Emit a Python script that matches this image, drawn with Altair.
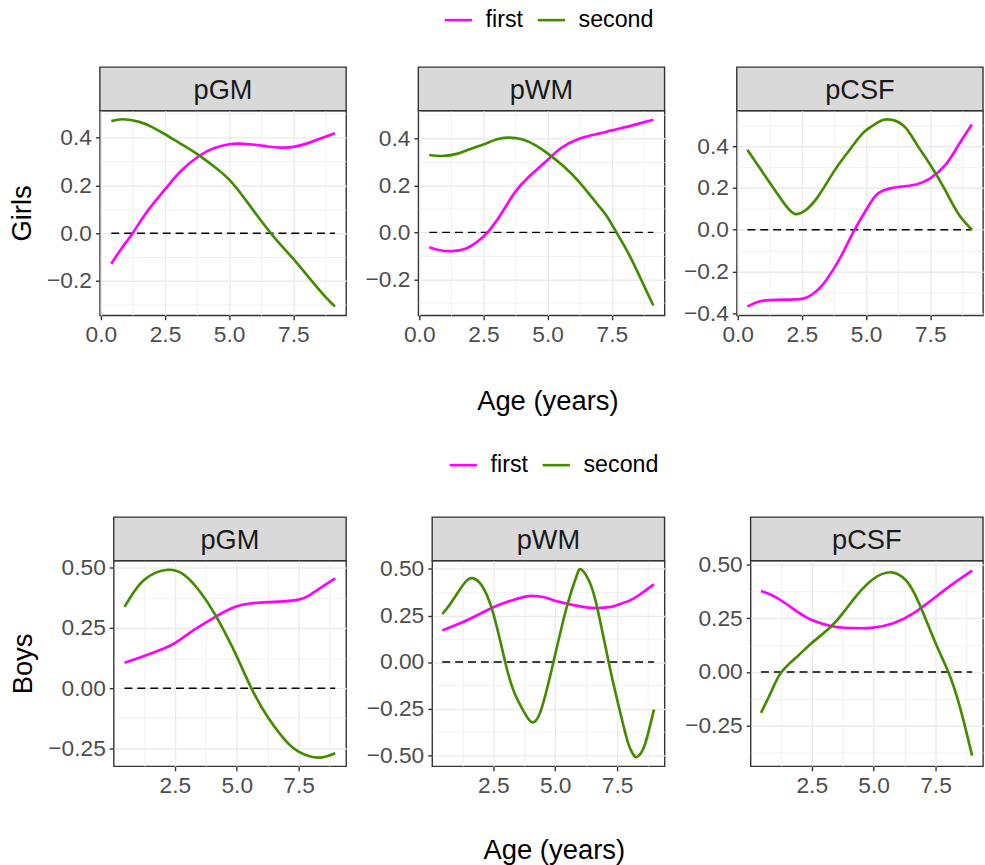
import altair as alt
import pandas as pd

FONT = "Liberation Sans"
PINK = "#FF00FF"
GREEN = "#458B00"

SERIES = ["first", "second"]
PANELS = ["pGM", "pWM", "pCSF"]
ROWS = ["Girls", "Boys"]

# ---------------- Girls ----------------
girls_pGM_first_age = [0.41, 0.8, 1.24, 1.8, 2.5, 3.1, 3.8, 4.4, 5.0, 5.4, 6.0, 6.5, 7.0, 7.5, 8.1, 8.75, 9.12]
girls_pGM_first_val = [-0.128, -0.065, 0.0, 0.09, 0.183, 0.258, 0.321, 0.355, 0.372, 0.375, 0.37, 0.363, 0.358, 0.361, 0.378, 0.404, 0.418]
girls_pGM_second_age = [0.41, 0.86, 1.5, 2.0, 2.5, 3.1, 3.8, 4.4, 5.0, 5.6, 6.2, 6.62, 7.0, 7.5, 8.1, 8.76, 9.12]
girls_pGM_second_val = [0.469, 0.477, 0.466, 0.444, 0.414, 0.375, 0.328, 0.28, 0.224, 0.145, 0.058, 0.0, -0.048, -0.108, -0.185, -0.268, -0.307]

girls_pWM_first_age = [0.39, 0.8, 1.28, 1.8, 2.2, 2.66, 3.2, 3.71, 4.3, 5.0, 5.5, 6.25, 7.0, 7.5, 8.2, 8.77, 9.12]
girls_pWM_first_val = [-0.063, -0.076, -0.080, -0.07, -0.045, 0.0, 0.08, 0.168, 0.24, 0.308, 0.357, 0.399, 0.42, 0.434, 0.452, 0.469, 0.479]
girls_pWM_second_age = [0.39, 0.9, 1.5, 2.0, 2.5, 3.0, 3.46, 4.0, 4.5, 5.0, 5.6, 6.25, 6.9, 7.3, 7.68, 8.2, 8.77, 9.12]
girls_pWM_second_val = [0.329, 0.325, 0.335, 0.355, 0.374, 0.395, 0.403, 0.396, 0.372, 0.336, 0.283, 0.212, 0.125, 0.07, 0.0, -0.1, -0.231, -0.311]

girls_pCSF_first_age = [0.38, 0.8, 1.25, 1.8, 2.5, 2.9, 3.3, 3.75, 4.1, 4.51, 5.0, 5.35, 5.67, 6.0, 6.25, 6.95, 7.5, 8.1, 8.6, 9.12]
girls_pCSF_first_val = [-0.368, -0.345, -0.337, -0.335, -0.331, -0.31, -0.265, -0.185, -0.11, -0.01, 0.095, 0.16, 0.188, 0.2, 0.205, 0.217, 0.246, 0.312, 0.406, 0.505]
girls_pCSF_second_age = [0.38, 0.8, 1.25, 1.83, 2.23, 2.6, 3.1, 3.75, 4.2, 4.65, 5.0, 5.4, 5.81, 6.45, 6.95, 7.5, 8.1, 8.6, 9.12]
girls_pCSF_second_val = [0.383, 0.307, 0.225, 0.123, 0.076, 0.09, 0.154, 0.28, 0.357, 0.43, 0.477, 0.51, 0.529, 0.5, 0.414, 0.312, 0.186, 0.076, 0.0]

# ---------------- Boys ----------------
boys_pGM_first_age = [0.466, 1.23, 1.9, 2.5, 3.0, 3.48, 4.14, 4.6, 5.0, 5.6, 6.25, 6.9, 7.5, 7.9, 8.23, 8.6, 8.98]
boys_pGM_first_val = [0.105, 0.132, 0.158, 0.187, 0.222, 0.255, 0.296, 0.322, 0.340, 0.352, 0.357, 0.360, 0.367, 0.383, 0.405, 0.43, 0.455]
boys_pGM_second_age = [0.466, 0.85, 1.23, 1.7, 2.22, 2.8, 3.48, 4.14, 4.6, 5.0, 5.59, 6.25, 6.9, 7.5, 8.3, 8.98]
boys_pGM_second_val = [0.337, 0.4, 0.446, 0.478, 0.491, 0.475, 0.405, 0.303, 0.215, 0.132, 0.0, -0.12, -0.209, -0.263, -0.288, -0.27]

boys_pWM_first_age = [0.44, 1.23, 1.9, 2.5, 3.1, 3.75, 4.14, 4.6, 5.0, 5.6, 6.26, 6.72, 7.2, 7.5, 8.0, 8.38, 8.99]
boys_pWM_first_val = [0.170, 0.212, 0.255, 0.294, 0.325, 0.350, 0.355, 0.347, 0.329, 0.31, 0.294, 0.290, 0.295, 0.306, 0.33, 0.359, 0.418]
boys_pWM_second_age = [0.44, 0.75, 1.0, 1.37, 1.66, 2.03, 2.5, 2.98, 3.35, 3.75, 4.04, 4.41, 4.93, 5.47, 5.87, 6.06, 6.39, 6.72, 7.16, 7.5, 7.87, 8.05, 8.22, 8.4, 8.64, 8.99]
boys_pWM_second_val = [0.258, 0.31, 0.36, 0.43, 0.451, 0.412, 0.26, 0.0, -0.165, -0.27, -0.322, -0.265, 0.0, 0.297, 0.465, 0.497, 0.43, 0.28, 0.0, -0.2, -0.4, -0.47, -0.508, -0.5, -0.437, -0.255]

boys_pCSF_first_age = [0.45, 0.85, 1.25, 1.93, 2.5, 3.27, 3.8, 4.32, 5.0, 5.8, 6.6, 7.5, 8.3, 8.98]
boys_pCSF_first_val = [0.377, 0.36, 0.334, 0.280, 0.242, 0.214, 0.206, 0.204, 0.207, 0.227, 0.273, 0.349, 0.418, 0.472]
boys_pCSF_second_age = [0.45, 0.88, 1.28, 1.93, 2.5, 3.27, 3.8, 4.32, 5.0, 5.72, 6.31, 6.84, 7.5, 8.02, 8.49, 8.98]
boys_pCSF_second_val = [-0.190, -0.087, 0.0, 0.074, 0.135, 0.211, 0.280, 0.357, 0.434, 0.464, 0.426, 0.319, 0.135, 0.0, -0.164, -0.389]

# axis domains (ggplot-style expanded ranges)
x_domain = {"Girls": [-0.036, 9.556], "Boys": [0.03, 9.42]}
y_domain = {
    ("Girls", "pGM"): [-0.344, 0.513],
    ("Girls", "pWM"): [-0.353, 0.518],
    ("Girls", "pCSF"): [-0.41, 0.571],
    ("Boys", "pGM"): [-0.324, 0.529],
    ("Boys", "pWM"): [-0.56, 0.545],
    ("Boys", "pCSF"): [-0.4385, 0.5185],
}
y_minor_step = {"Girls": 0.1, "Boys": 0.125}
y_format = {"Girls": ".1f", "Boys": ".2f"}

curves = {
    ("Girls", "pGM"): ((girls_pGM_first_age, girls_pGM_first_val), (girls_pGM_second_age, girls_pGM_second_val)),
    ("Girls", "pWM"): ((girls_pWM_first_age, girls_pWM_first_val), (girls_pWM_second_age, girls_pWM_second_val)),
    ("Girls", "pCSF"): ((girls_pCSF_first_age, girls_pCSF_first_val), (girls_pCSF_second_age, girls_pCSF_second_val)),
    ("Boys", "pGM"): ((boys_pGM_first_age, boys_pGM_first_val), (boys_pGM_second_age, boys_pGM_second_val)),
    ("Boys", "pWM"): ((boys_pWM_first_age, boys_pWM_first_val), (boys_pWM_second_age, boys_pWM_second_val)),
    ("Boys", "pCSF"): ((boys_pCSF_first_age, boys_pCSF_first_val), (boys_pCSF_second_age, boys_pCSF_second_val)),
}

# layout
panel_w = {"Girls": 249, "Boys": 235}
panel_h = {"Girls": 207, "Boys": 208}
col_spacing = {"Girls": 16, "Boys": 17}
lead_spacing = {"Girls": 5, "Boys": 6}
STRIP_H = 44
legend_pos = {"Girls": (447, -107), "Boys": (452, -112)}
xtitle_x = {"Girls": 130.5, "Boys": 123}
xtitle_y = {"Girls": 95, "Boys": 93}


def cond(test, a, b):
    return {"condition": {"test": test, "value": a}, "value": b}


def make_panel(row, panel, idx):
    (fa, fv), (sa, sv) = curves[(row, panel)]
    df = pd.concat([
        pd.DataFrame({"age": fa, "value": fv, "series": "first"}),
        pd.DataFrame({"age": sa, "value": sv, "series": "second"}),
    ], ignore_index=True)
    zero = pd.DataFrame({"age": [df["age"].min(), df["age"].max()], "value": [0.0, 0.0]})
    strip = pd.DataFrame({"panel": [panel]})

    w, h = panel_w[row], panel_h[row]
    xd = x_domain[row]
    yd = y_domain[(row, panel)]
    step = y_minor_step[row]

    xvals = [round(k * 1.25, 4) for k in range(-2, 10) if xd[0] <= k * 1.25 <= xd[1]]
    yvals = [round(k * step, 4) for k in range(-10, 11) if yd[0] <= k * step <= yd[1]]

    xmaj = "abs(round(datum.value / 1.25)) % 2 == 0"
    ymaj = "abs(round(datum.value / %s)) %% 2 == 0" % step

    xaxis_kw = dict(
        values=xvals, format=".1f",
        labelExpr="%s ? datum.label : ''" % xmaj,
        gridWidth=cond(xmaj, 1.4, 0.7),
        tickOpacity=cond(xmaj, 1, 0),
        labelOverlap=False, labelFlush=False,
    )
    if idx == 1:
        xaxis_kw.update(title="Age (years)", titleX=xtitle_x[row], titleY=xtitle_y[row],
                        titleBaseline="alphabetic", titleAlign="center")
    else:
        xaxis_kw.update(title=None)

    yaxis_kw = dict(
        values=yvals, format=y_format[row],
        labelExpr="%s ? datum.label : ''" % ymaj,
        gridWidth=cond(ymaj, 1.4, 0.7),
        tickOpacity=cond(ymaj, 1, 0),
        labelOverlap=False,
    )
    if idx == 0:
        yaxis_kw.update(title=row, titlePadding=10)
    else:
        yaxis_kw.update(title=None)

    x = alt.X("age:Q", scale=alt.Scale(domain=xd, nice=False, zero=False), axis=alt.Axis(**xaxis_kw))
    y = alt.Y("value:Q", scale=alt.Scale(domain=yd, nice=False, zero=False), axis=alt.Axis(**yaxis_kw))

    lx, ly = legend_pos[row]
    color = alt.Color(
        "series:N",
        scale=alt.Scale(domain=SERIES, range=[PINK, GREEN]),
        legend=alt.Legend(
            orient="none", legendX=lx, legendY=ly, direction="horizontal", title=None,
            symbolType="stroke", symbolStrokeWidth=2.6, symbolSize=760,
            labelFont=FONT, labelFontSize=23.5, labelColor="#000000",
            labelOffset=12, columnPadding=9, padding=0,
        ),
    )

    zero_line = alt.Chart(zero).mark_line(color="black", strokeWidth=1.5, strokeDash=[8, 5]).encode(x=x, y=y)
    lines = alt.Chart(df).mark_line(strokeWidth=2.7, interpolate="natural").encode(x=x, y=y, color=color)
    rect = alt.Chart(strip).mark_rect(fill="#D9D9D9", stroke="#333333", strokeWidth=1.4).encode(
        x=alt.value(0), x2=alt.value(w), y=alt.value(-STRIP_H), y2=alt.value(0))
    label = alt.Chart(strip).mark_text(font=FONT, fontSize=27.5, color="#1A1A1A", baseline="alphabetic").encode(
        x=alt.value(w / 2), y=alt.value(-12), text="panel:N")

    return alt.layer(zero_line, lines, rect, label).properties(width=w, height=h)


def lead_cell(row):
    # invisible 1px cell that fixes the left edge of each row
    return alt.Chart(pd.DataFrame({"row": [row]})).mark_rule(opacity=0).encode(
        x=alt.value(0), y=alt.value(0), y2=alt.value(1)
    ).properties(width=1, height=1, view=alt.ViewBackground(stroke="transparent"))


rows = []
for row in ROWS:
    panels = alt.hconcat(*[make_panel(row, p, i) for i, p in enumerate(PANELS)], spacing=col_spacing[row])
    rows.append(alt.hconcat(lead_cell(row), panels, spacing=lead_spacing[row]))

chart = (
    alt.vconcat(*rows, spacing=34)
    .resolve_scale(color="independent")
    .properties(padding={"left": 0, "top": 0, "right": 0, "bottom": 0}, background="white")
    .configure(font=FONT)
    .configure_view(stroke="#333333", strokeWidth=1.4)
    .configure_axis(
        domain=False, gridColor="#EBEBEB", tickColor="#333333", tickWidth=1.4, tickSize=4.5,
        labelColor="#4D4D4D", labelFont=FONT, labelFontSize=23, labelPadding=4,
        titleFont=FONT, titleFontSize=27.7, titleFontWeight="normal", titleColor="#000000",
    )
)

chart.save("out.html", embed_options={"renderer": "svg", "actions": False})
